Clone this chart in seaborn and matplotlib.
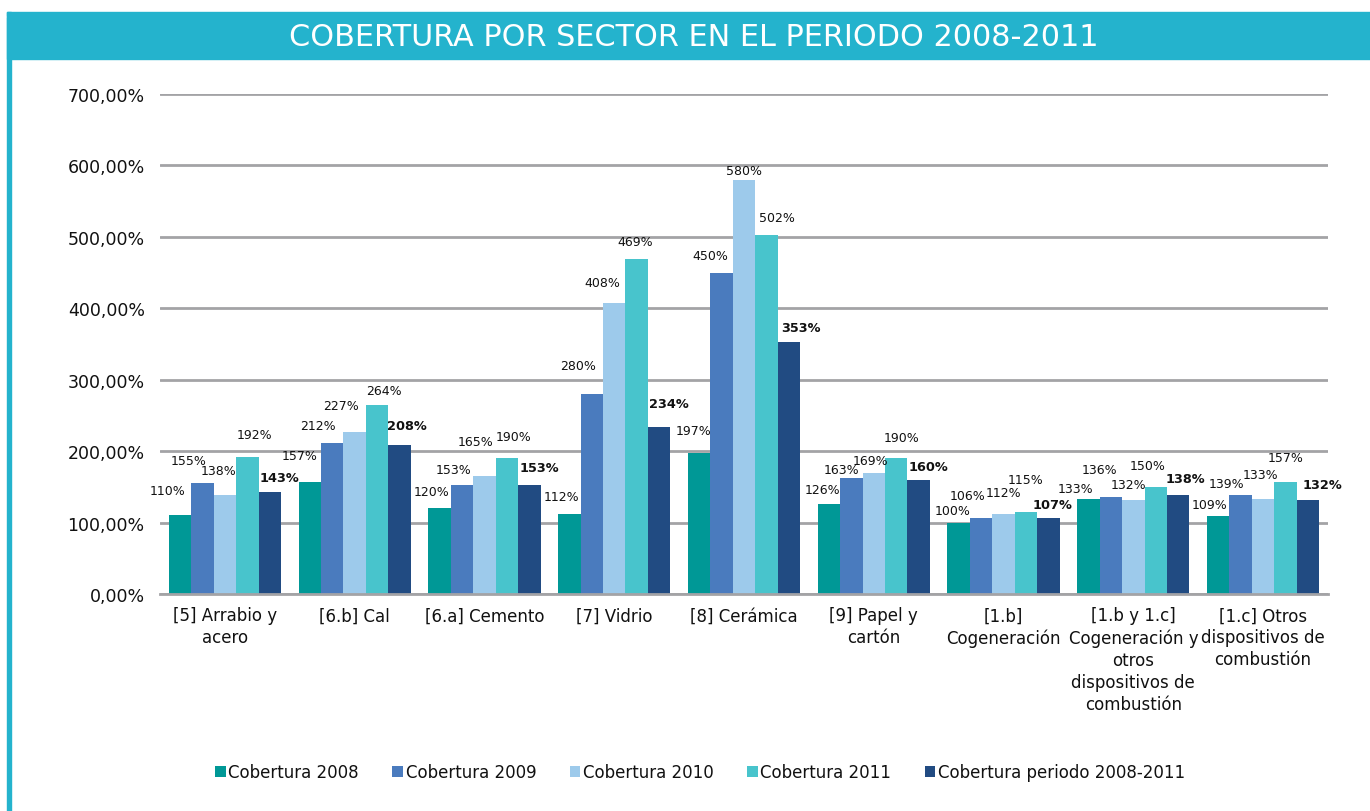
import matplotlib
matplotlib.use("Agg")
import matplotlib.pyplot as plt
from matplotlib.patches import Rectangle
import seaborn as sns
import pandas as pd

sectors = ["[5] Arrabio y\nacero", "[6.b] Cal", "[6.a] Cemento", "[7] Vidrio",
           "[8] Cerámica", "[9] Papel y\ncartón", "[1.b]\nCogeneración",
           "[1.b y 1.c]\nCogeneración y\notros\ndispositivos de\ncombustión",
           "[1.c] Otros\ndispositivos de\ncombustión"]
series = ["Cobertura 2008", "Cobertura 2009", "Cobertura 2010", "Cobertura 2011",
          "Cobertura periodo 2008-2011"]
cob_2008 = [110, 157, 120, 112, 197, 126, 100, 133, 109]
cob_2009 = [155, 212, 153, 280, 450, 163, 106, 136, 139]
cob_2010 = [138, 227, 165, 408, 580, 169, 112, 132, 133]
cob_2011 = [192, 264, 190, 469, 502, 190, 115, 150, 157]
cob_periodo = [143, 208, 153, 234, 353, 160, 107, 138, 132]
y_ticks = [0, 100, 200, 300, 400, 500, 600, 700]
y_tick_labels = ["0,00%", "100,00%", "200,00%", "300,00%", "400,00%",
                 "500,00%", "600,00%", "700,00%"]
title = "COBERTURA POR SECTOR EN EL PERIODO 2008-2011"

# label placement (pixel offsets from each bar's top centre), per series
label_dx = [[-12, -10, -8, -8, -6, -6, -6, -13, -9],
            [-14, -14, -8, -14, -11, -10, -14, -11, -14],
            [-6, -14, -9, -12, 0, -3, 0, -5, -3],
            [7, 7, 7, -1, 10, 5, 0, -8, 0],
            [10, 7, 10, 10, 12, 10, 4, 7, 14]]
label_dy = [[25, 26, 17, 17, 23, 14, 12, 10, 12],
            [23, 17, 15, 28, 17, 8, 23, 27, 11],
            [25, 26, 35, 20, 9, 13, 21, 15, 24],
            [22, 15, 22, 17, 18, 21, 32, 21, 24],
            [14, 20, 17, 23, 14, 13, 13, 17, 15]]

colors = ["#009896", "#4A7BBE", "#9DCAEB", "#48C4CC", "#214B82"]
teal = "#24B3CD"

rows = []
for name, vals in zip(series, [cob_2008, cob_2009, cob_2010, cob_2011, cob_periodo]):
    for s, v in zip(sectors, vals):
        rows.append({"sector": s, "serie": name, "valor": v})
df = pd.DataFrame(rows)

sns.set_theme(style="white")
plt.rcParams["font.family"] = ["DejaVu Sans"]

fig = plt.figure(figsize=(13.7, 8.12), dpi=100)
W, H = 1370, 812
ax = fig.add_axes([160 / W, 1 - 595 / H, (1328 - 160) / W, (595 - 95) / H])

sns.barplot(data=df, x="sector", y="valor", hue="serie", palette=colors,
            width=0.865, saturation=1, ax=ax, linewidth=0)

ax.set_ylim(0, 700)
ax.set_xlim(-0.5, len(sectors) - 0.5)
ax.set_yticks(y_ticks)
ax.set_yticklabels(y_tick_labels, fontsize=12.5, color="#111111")
ax.tick_params(axis="y", length=0, pad=11)
ax.tick_params(axis="x", length=0, pad=9, labelsize=12, labelcolor="#111111")
ax.set_xlabel("")
ax.set_ylabel("")
ax.grid(axis="y", color="#A3A3A6", linewidth=2)
ax.set_axisbelow(True)
for sp in ["left", "right", "top"]:
    ax.spines[sp].set_visible(False)
ax.spines["bottom"].set_color("#A3A3A6")
ax.spines["bottom"].set_linewidth(2)
for lab in ax.get_xticklabels():
    lab.set_multialignment("center")
    lab.set_linespacing(1.28)

for k, cont in enumerate(ax.containers):
    for i, p in enumerate(cont):
        h = p.get_height()
        xc = p.get_x() + p.get_width() / 2
        ax.annotate(f"{h:.0f}%", (xc, h), xytext=(label_dx[k][i], label_dy[k][i]),
                    textcoords="offset pixels", ha="center", va="center",
                    fontsize=9.3 if k == 4 else 9, color="#111111",
                    fontweight="bold" if k == 4 else "normal")

leg = ax.legend(loc="center", bbox_to_anchor=(700 / W, 1 - 773 / H),
                bbox_transform=fig.transFigure, ncol=5, frameon=False,
                fontsize=12, handlelength=0.65, handleheight=0.65,
                handletextpad=0.15, columnspacing=2.0, borderaxespad=0)
for t in leg.get_texts():
    t.set_color("#111111")

# frame and title band
fig.patches.append(Rectangle((7 / W, 1 - 16.7 / H), 1 - 7 / W, 3.7 / H,
                             transform=fig.transFigure, color=teal, zorder=0))
fig.patches.append(Rectangle((7 / W, 1 - 60 / H), 1 - 7 / W, 42.3 / H,
                             transform=fig.transFigure, color=teal, zorder=0))
fig.patches.append(Rectangle((7 / W, 0), 4 / W, 1 - 13 / H,
                             transform=fig.transFigure, color=teal, zorder=0))
fig.text(694 / W, 1 - 37.5 / H, title, color="white", fontsize=21.8,
         ha="center", va="center")

fig.savefig("out.png", dpi=100)
